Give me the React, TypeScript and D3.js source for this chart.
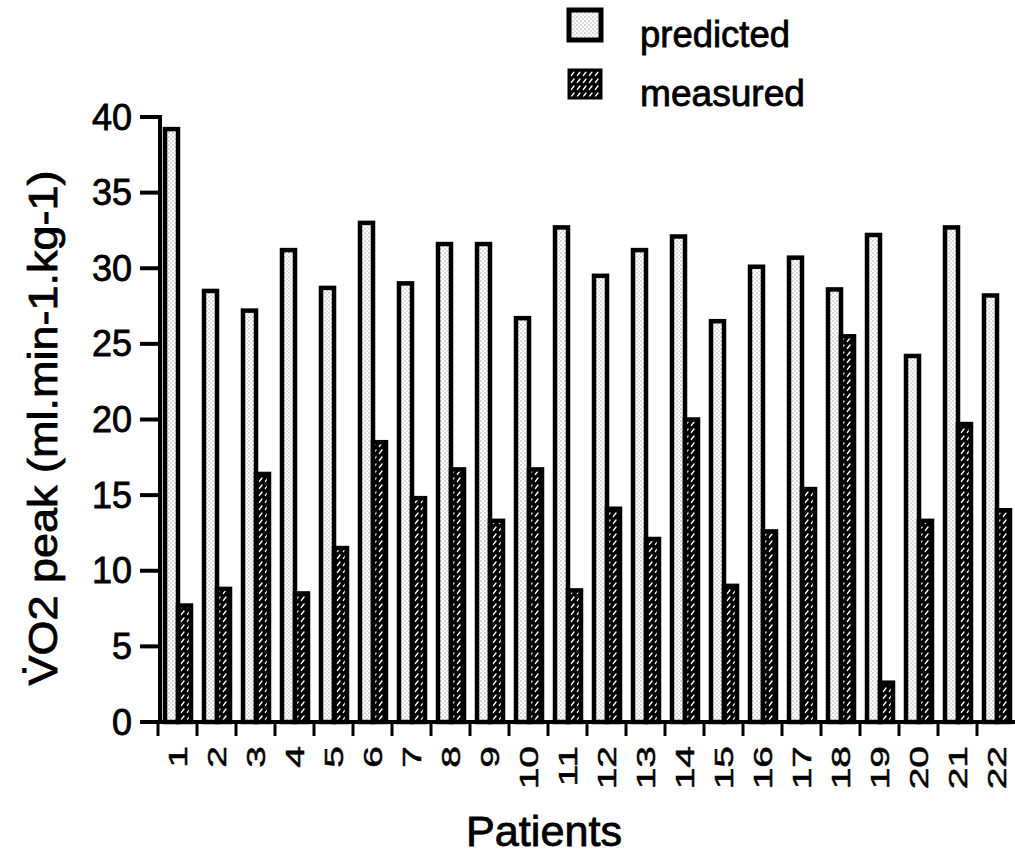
import React from "react";
import * as d3 from "d3";

// Peak oxygen uptake per patient: predicted vs measured
const patients = ["1","2","3","4","5","6","7","8","9","10","11","12","13","14","15","16","17","18","19","20","21","22"];
const predicted = [39.2, 28.5, 27.2, 31.2, 28.7, 33.0, 29.0, 31.6, 31.6, 26.7, 32.7, 29.5, 31.2, 32.1, 26.5, 30.1, 30.7, 28.6, 32.2, 24.2, 32.7, 28.2];
const measured = [7.7, 8.8, 16.4, 8.5, 11.5, 18.5, 14.8, 16.7, 13.3, 16.7, 8.7, 14.1, 12.1, 20.0, 9.0, 12.6, 15.4, 25.5, 2.6, 13.3, 19.7, 14.0];
const seriesNames = ["predicted", "measured"];
const yTicks = [0, 5, 10, 15, 20, 25, 30, 35, 40];

const FONT = "'Liberation Sans', Arial, Helvetica, sans-serif";
const ink = { fill: "#000", stroke: "#000", strokeWidth: 0.8 };

export default function App() {
  const width = 1015;
  const height = 857;
  const x0 = 158;
  const x1 = 1016;
  const yBottom = 722;
  const yTop = 117;

  const x = d3.scaleBand<string>().domain(patients).range([x0, x1]).paddingInner(0).paddingOuter(0);
  const xs = d3.scaleBand<string>().domain(seriesNames).range([7, 33]).padding(0);
  const y = d3.scaleLinear().domain([0, 40]).range([yBottom, yTop]);

  const values: Record<string, number[]> = { predicted, measured };
  const fills: Record<string, string> = { predicted: "url(#stipple)", measured: "url(#hatch)" };

  return (
    <svg
      width={width}
      height={height}
      style={{ position: "absolute", left: 0, top: 0, background: "#fff" }}
      fontFamily={FONT}
    >
      <defs>
        <pattern id="stipple" patternUnits="userSpaceOnUse" width="4" height="4">
          <rect width="4" height="4" fill="#fff" />
          <rect x="0.5" y="0.5" width="1" height="1" fill="#666" />
          <rect x="2.5" y="2.5" width="1" height="1" fill="#888" />
        </pattern>
        <pattern id="hatch" patternUnits="userSpaceOnUse" width="6" height="7">
          <rect width="6" height="7" fill="#000" />
          <line x1="1.4" y1="5.4" x2="4.0" y2="2.0" stroke="#fff" strokeWidth="1.4" strokeLinecap="round" />
        </pattern>
      </defs>

      {/* bars */}
      {patients.map((p, i) =>
        seriesNames.map((s) => {
          const v = values[s][i];
          const bx = (x(p) as number) + (xs(s) as number);
          return (
            <rect
              key={p + s}
              x={bx}
              y={y(v)}
              width={xs.bandwidth()}
              height={yBottom - y(v)}
              fill={fills[s]}
              stroke="#000"
              strokeWidth={4.5}
            />
          );
        })
      )}

      {/* y axis */}
      <line x1={x0 + 2} x2={x0 + 2} y1={y(40) - 2} y2={yBottom + 2} stroke="#000" strokeWidth={4} />
      {yTicks.map((t) => (
        <g key={t}>
          <line x1={140} x2={x0 + 2} y1={y(t)} y2={y(t)} stroke="#000" strokeWidth={4} />
          <text x={132} y={y(t)} textAnchor="end" dominantBaseline="central" fontSize={36} {...ink}>
            {t}
          </text>
        </g>
      ))}

      {/* x axis */}
      <line x1={x0} x2={width} y1={yBottom} y2={yBottom} stroke="#000" strokeWidth={4} />
      {patients.map((p) => (
        <line
          key={"t" + p}
          x1={x(p) as number}
          x2={x(p) as number}
          y1={yBottom}
          y2={yBottom + 14}
          stroke="#000"
          strokeWidth={3}
        />
      ))}
      {patients.map((p) => (
        <text
          key={"l" + p}
          transform={`translate(${(x(p) as number) + x.bandwidth() / 2},${746}) rotate(-90) scale(1.5,1)`}
          textAnchor="end"
          dominantBaseline="central"
          fontSize={26}
          {...ink}
          strokeWidth={0.5}
        >
          {p}
        </text>
      ))}

      {/* axis titles */}
      <text x={544} y={846} textAnchor="middle" fontSize={42} textLength={156} lengthAdjust="spacingAndGlyphs" {...ink}>
        Patients
      </text>
      <text
        transform={`translate(${57},${428}) rotate(-90)`}
        textAnchor="middle"
        fontSize={40}
        textLength={515}
        lengthAdjust="spacingAndGlyphs"
        {...ink}
      >
        V̇O2 peak (ml.min-1.kg-1)
      </text>

      {/* legend */}
      <rect x={569} y={10} width={32} height={30} fill="url(#stipple)" stroke="#000" strokeWidth={5} />
      <text x={640} y={47} fontSize={37} textLength={150} lengthAdjust="spacingAndGlyphs" {...ink}>predicted</text>
      <rect x={569} y={70} width={32} height={28} fill="url(#hatch)" stroke="#000" strokeWidth={3} />
      <text x={640} y={106} fontSize={37} textLength={165} lengthAdjust="spacingAndGlyphs" {...ink}>measured</text>
    </svg>
  );
}
